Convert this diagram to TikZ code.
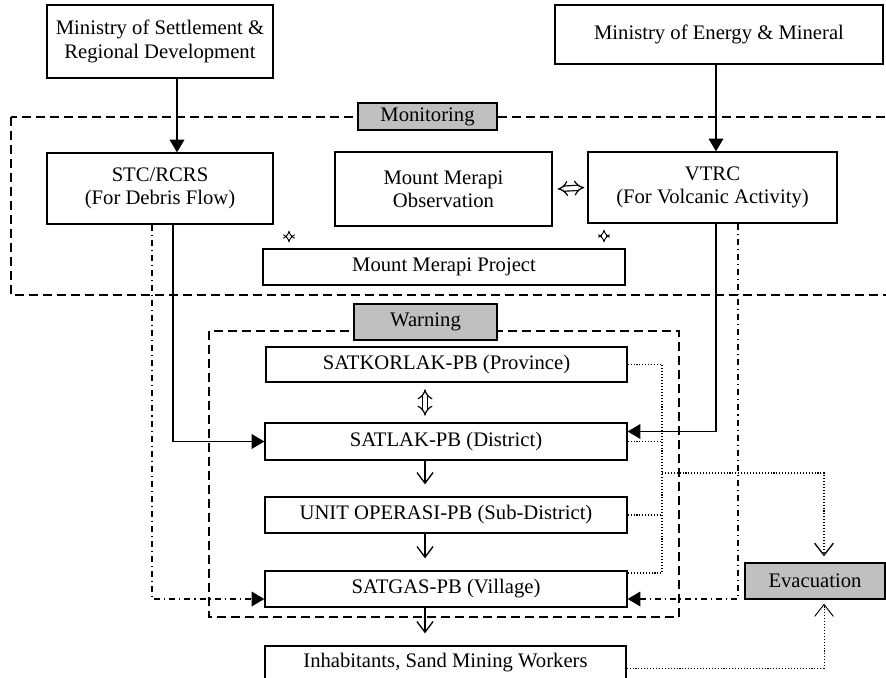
\documentclass[tikz,border=0pt]{standalone}
\usepackage{fontspec}
\setmainfont{Liberation Serif}
\usetikzlibrary{arrows.meta}
\definecolor{lblgray}{RGB}{192,192,192}

\begin{document}
\begin{tikzpicture}[x=0.75pt, y=-0.75pt,
    font=\fontsize{15.5}{17.5}\selectfont,
    box/.style={draw, line width=1pt, align=center, inner sep=0pt},
    lbl/.style={box, fill=lblgray},
    zone/.style={line width=1pt, dash pattern=on 6.75pt off 3.75pt},
    arr/.style={line width=1pt, -{Triangle[length=9.5pt,width=11pt]}},
    dashdot/.style={line width=1pt, dash pattern=on 4.5pt off 3pt on 0.8pt off 3pt},
    dots/.style={line width=1pt, dash pattern=on 0.8pt off 1.4pt},
    vee/.style={line width=1pt, -{Straight Barb[length=8pt,width=12pt]}},
    bigvee/.style={line width=1pt, -{Straight Barb[length=9pt,width=14pt]}},
    twin/.style={double, double distance=2.4pt, line width=0.7pt, {Implies[scale=1.5]}-{Implies[scale=1.5]}},
    bigtwin/.style={double, double distance=3pt, line width=0.9pt, {Implies[scale=2]}-{Implies[scale=2]}}
]
    \useasboundingbox (0,0) rectangle (886,678);
    \clip (0,0) rectangle (886,678);

    \draw[zone] (11,117) rectangle (900,295);
    \draw[zone] (209,331) rectangle (679,617);

    \node[box, minimum width=169.5pt, minimum height=54.75pt] (mset) at (160,41.5) {Ministry of Settlement \&\\Regional Development};
    \node[box, minimum width=246pt, minimum height=44.25pt] (meng) at (719,34.5) {Ministry of Energy \& Mineral};
    \node[lbl, minimum width=104.25pt, minimum height=20.25pt] (monitor) at (427.5,116.5) {Monitoring};
    \node[box, minimum width=169.5pt, minimum height=53.25pt] (stc) at (160,188.5) {STC/RCRS\\(For Debris Flow)};
    \node[box, minimum width=162.75pt, minimum height=55.5pt] (obs) at (443.5,189) {Mount Merapi\\Observation};
    \node[box, minimum width=186.75pt, minimum height=53.25pt] (vtrc) at (712.5,187.5) {VTRC\\(For Volcanic Activity)};
    \node[box, minimum width=271.5pt, minimum height=27pt] (proj) at (444,267) {Mount Merapi Project};
    \node[lbl, minimum width=107.25pt, minimum height=27pt] (warning) at (425.5,322) {Warning};
    \node[box, minimum width=270.75pt, minimum height=26.25pt] (prov) at (446.5,364.5) {SATKORLAK-PB (Province)};
    \node[box, minimum width=271.5pt, minimum height=27.75pt] (dist) at (446,441.5) {SATLAK-PB (District)};
    \node[box, minimum width=271.5pt, minimum height=27pt] (sub) at (446,515) {UNIT OPERASI-PB (Sub-District)};
    \node[box, minimum width=271.5pt, minimum height=27pt] (vill) at (446,589) {SATGAS-PB (Village)};
    \node[box, minimum width=270.75pt, minimum height=25.5pt] (inhab) at (445.5,663) {Inhabitants, Sand Mining Workers};
    \node[lbl, minimum width=105pt, minimum height=27pt] (evac) at (815,581) {Evacuation};

    \coordinate (vx) at (716,0);
    \coordinate (ax) at (425,0);
    \coordinate (dx) at (662,573);
    \coordinate (dj) at (662,473);

    \draw[arr] ([xshift=12.75pt]mset.south) -- ([xshift=12.75pt]stc.north);
    \draw[arr] (meng.south -| vx) -- (vtrc.north -| vx);
    \draw[bigtwin] ([xshift=3.75pt]obs.east) -- ([xshift=-2.25pt]vtrc.west);
    \draw[twin] ([yshift=-4.5pt]stc.south -| 289,0) -- ([yshift=4.5pt]proj.north -| 289,0);
    \draw[twin] ([yshift=-4.5pt]vtrc.south -| 604,0) -- ([yshift=4.5pt]proj.north -| 604,0);

    \draw[arr] (stc.south -| 173,0) |- (dist.west);
    \draw[dashdot, arr] (stc.south -| 152,0) |- ([yshift=-7.5pt]vill.west);
    \draw[arr] (vtrc.south -| vx) |- ([yshift=7.5pt]dist.east);
    \draw[dashdot, arr] (vtrc.south -| 738,0) |- ([yshift=-7.5pt]vill.east);

    \draw[bigtwin] ([yshift=-5pt]prov.south -| ax) -- ([yshift=5pt]dist.north -| ax);
    \draw[vee] (dist.south -| ax) -- ([yshift=9pt]sub.north -| ax);
    \draw[vee] (sub.south -| ax) -- ([yshift=9pt]vill.north -| ax);
    \draw[vee] (vill.south -| ax) -- ([yshift=9pt]inhab.north -| ax);

    \draw[dots] (prov.east) -| (dx) -- ([yshift=12pt]vill.east);
    \draw[dots] (dist.east) -- (dist.east -| dx);
    \draw[dots] (sub.east) -- (sub.east -| dx);
    \draw[dots, bigvee] (dj) -| ([xshift=6.75pt,yshift=4.5pt]evac.north);
    \draw[dots, bigvee, line width=0.7pt] ([yshift=-4pt]inhab.east) -| ([xshift=6.75pt,yshift=-3pt]evac.south);
\end{tikzpicture}
\end{document}
